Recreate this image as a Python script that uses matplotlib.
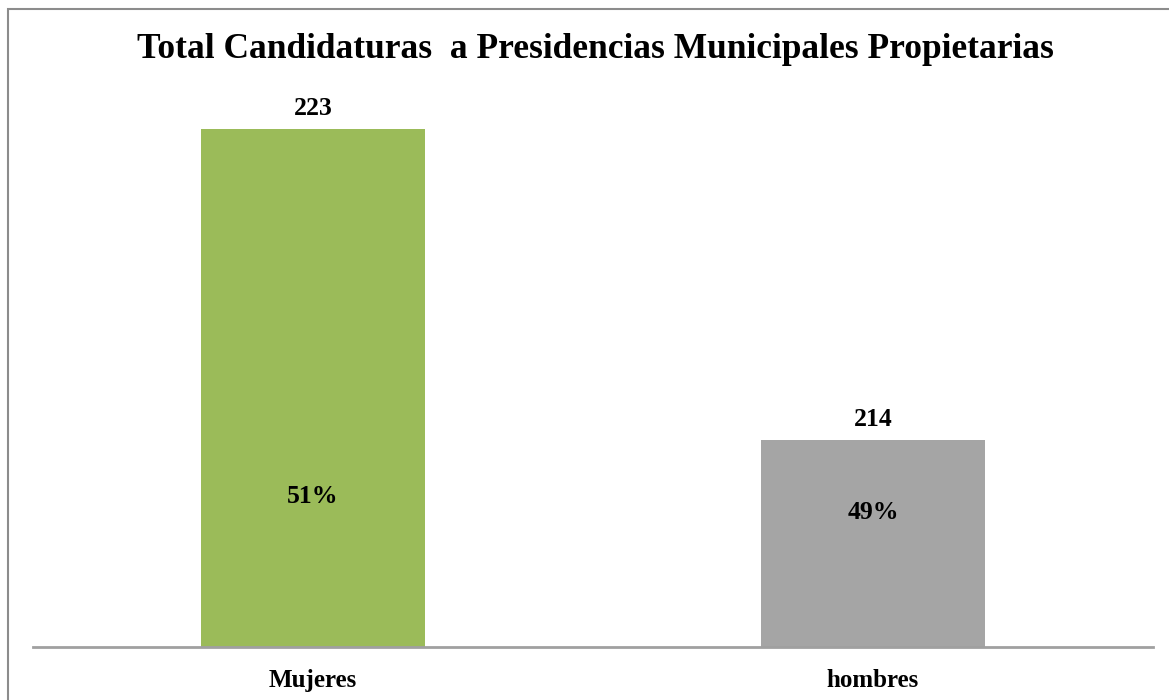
import matplotlib.pyplot as plt
from matplotlib.patches import Rectangle

# datos
categorias = ['Mujeres', 'hombres']
candidaturas = [223, 214]
porcentajes = ['51%', '49%']
pos_porcentaje = [212.35, 211.9]  # altura de las etiquetas de porcentaje
colores = ['#9BBB59', '#A5A5A5']

titulo = 'Total Candidaturas  a Presidencias Municipales Propietarias'
fuente = ['Liberation Serif', 'DejaVu Serif']

fig = plt.figure(figsize=(11.69, 7), dpi=100)
ax = fig.add_axes([33 / 1169, 1 - 647 / 700, 1120 / 1169, 553 / 700])

x = list(range(len(categorias)))
ax.bar(x, candidaturas, width=0.4, color=colores, bottom=0)
ax.set_xlim(-0.5, len(categorias) - 0.5)
ax.set_ylim(208, 224)

for xi, v, p, yp in zip(x, candidaturas, porcentajes, pos_porcentaje):
    ax.annotate(str(v), (xi, v), xytext=(0, 6), textcoords='offset points',
                ha='center', va='bottom', fontsize=18.5, fontweight='bold', family=fuente)
    ax.text(xi, yp, p, ha='center', va='center', fontsize=18.5, fontweight='bold', family=fuente)

ax.set_xticks(x)
ax.set_xticklabels(categorias, fontsize=18, fontweight='bold', family=fuente)
ax.tick_params(axis='x', length=0, pad=16)
ax.set_yticks([])
for lado in ['left', 'right', 'top']:
    ax.spines[lado].set_visible(False)
ax.spines['bottom'].set_color('#A0A0A0')
ax.spines['bottom'].set_linewidth(2)

fig.text(595 / 1169, 1 - 49 / 700, titulo, ha='center', va='center',
         fontsize=25.5, fontweight='bold', family=fuente)

# borde del gráfico (solo se ven los lados izquierdo y superior)
fig.patches.append(Rectangle((7.5 / 1169, -0.1), 1.2, 1.1 - 9 / 700,
                             transform=fig.transFigure, fill=False,
                             edgecolor='#8C8C8C', linewidth=1.5))

fig.savefig('out.png')
